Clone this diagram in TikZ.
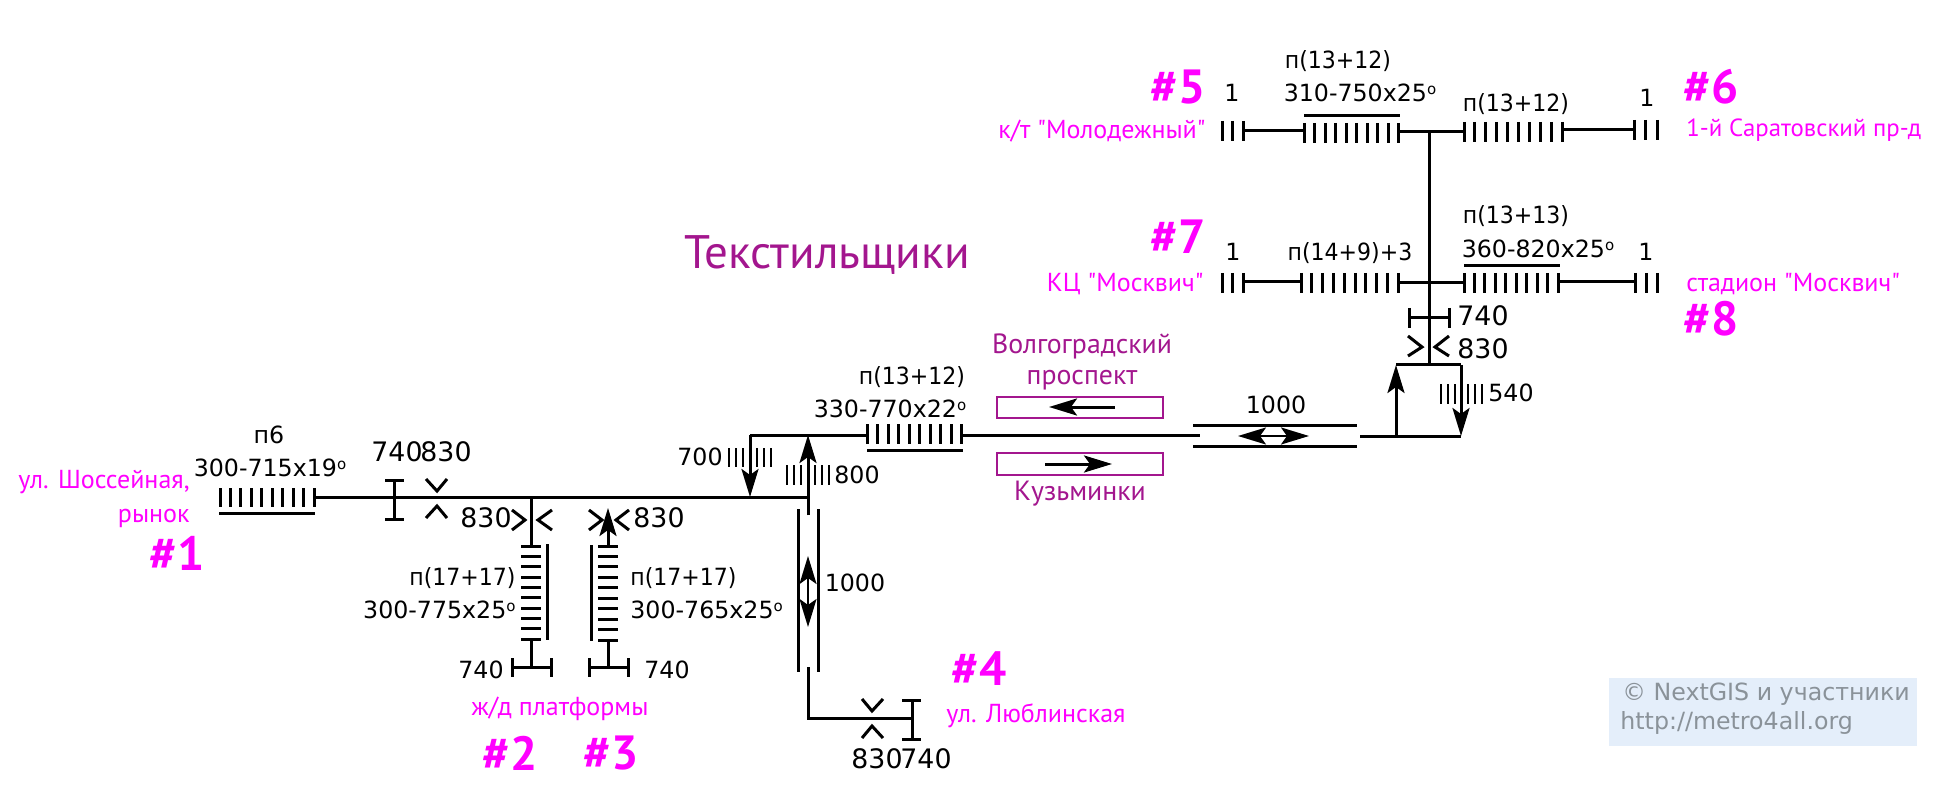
\documentclass[tikz,border=0pt]{standalone}
\usepackage{fontspec}
\setmainfont{DejaVu Sans}
\newfontfamily\labelfont{PT Sans}
\newfontfamily\tightfont[FakeStretch=0.93]{DejaVu Sans}
\usetikzlibrary{positioning,arrows.meta}
\definecolor{stationpink}{HTML}{FF00FF}
\definecolor{linepurple}{HTML}{A3168E}
\definecolor{notegray}{HTML}{8A9299}
\definecolor{noteblue}{HTML}{E4EEFA}
\tikzset{
    track/.style={line width=1.5pt},
    ticks/.style={line width=1.5pt},
    fine ticks/.style={line width=1.45pt},
    flow/.style={line width=1.5pt,-{Stealth[length=14pt,width=8.5pt,inset=3pt]}},
    flow both/.style={line width=1.2pt,{Stealth[length=14pt,width=8.5pt,inset=3pt]}-{Stealth[length=14pt,width=8.5pt,inset=3pt]}},
    dim/.style={inner sep=0pt,font=\fontsize{11.85}{14}\selectfont},
    door/.style={inner sep=0pt,font=\fontsize{13.4}{16}\selectfont},
    size/.style={inner sep=0pt,font=\tightfont\fontsize{11.85}{14}\selectfont},
    place/.style={inner sep=0pt,text=stationpink,font=\labelfont\fontsize{13}{15}\selectfont},
    exitno/.style={inner sep=0pt,text=stationpink,font=\labelfont\bfseries\fontsize{24}{28}\selectfont},
    linename/.style={inner sep=0pt,text=linepurple,font=\labelfont\fontsize{13.9}{16}\selectfont},
    lane/.style={draw=linepurple,line width=1.4pt},
}
\newcommand{\slope}{\raisebox{.55ex}{\fontsize{7.5}{8}\selectfont o}}
% stairs along a horizontal or a vertical run: first tick, spacing, span
\newcommand{\stairsh}[5]{\foreach \tk in {1,...,#1} \draw[ticks] ({#2+(\tk-1)*#3},#4) -- ({#2+(\tk-1)*#3},#5);}
\newcommand{\stairsv}[5]{\foreach \tk in {1,...,#1} \draw[ticks] (#4,{#2+(\tk-1)*#3}) -- (#5,{#2+(\tk-1)*#3});}
\newcommand{\stairsf}[4]{\foreach \tk in {1,2,3} \draw[fine ticks] ({#1+(\tk-1)*#2},#3) -- ({#1+(\tk-1)*#2},#4);}
\begin{document}
\begin{tikzpicture}[x=0.5pt,y=-0.5pt]
\useasboundingbox (0,0) rectangle (1955,786);

% junctions
\coordinate (mainW) at (314,497);
\coordinate (mainE) at (808,497);
\coordinate (br2) at (531.5,497);
\coordinate (br2low) at (531.5,546);
\coordinate (br2end) at (531.5,667);
\coordinate (br2top) at (531.5,639);
\coordinate (br3) at (608,497);
\coordinate (br3low) at (608,546);
\coordinate (br3end) at (608,667);
\coordinate (br3top) at (608,640);
\coordinate (mid1) at (750,435);
\coordinate (mid1low) at (750,497);
\coordinate (mid2) at (808,435);
\coordinate (mid2low) at (808,515);
\coordinate (plat4W) at (867,435);
\coordinate (plat4E) at (962,435);
\coordinate (gapW) at (1200,435);
\coordinate (gapE) at (1360,436);
\coordinate (loopW) at (1396,436);
\coordinate (loopE) at (1461,436);
\coordinate (loopWt) at (1396,365);
\coordinate (loopEt) at (1461,365);
\coordinate (hub) at (1429,365);
\coordinate (hubtop) at (1429,132);
\coordinate (southA) at (808,667);
\coordinate (southB) at (808,718);
\coordinate (southC) at (912,718);

% main tracks
\draw[track] (mainW) -- (mainE);
\draw[track] (br2) -- (br2low);
\draw[track] (br2top) -- (br2end);
\draw[track] (br3top) -- (br3end);
\draw[track] (mid1) -- (plat4W);
\draw[track] (plat4E) -- (gapW);
\draw[track] (gapE) -- (loopE);
\draw[track] (loopWt) -- (loopEt);
\draw[track] (hub) -- (hubtop);
\draw[track] (mid2low) -- (mainE);
\draw[track] (southA) -- (southB) -- (southC);

% arrows
\draw[flow] (br3low) -- (608,508);
\draw[flow] (mid1) -- (mid1low);
\draw[flow] (mid2low) -- (mid2);
\draw[flow] (loopW) -- (loopWt);
\draw[flow] (loopEt) -- (loopE);
\draw[flow both] (1238,436) -- (1309,436);
\draw[flow both] (808,556) -- (808,627);

% platform 1
\stairsh{10}{220}{10.45}{488}{507}
\draw[track] (219,513) -- (315,513);
% entrance to platforms 2, 3
\stairsv{10}{546}{10.35}{521}{541}
\draw[track] (547,544) -- (547,640);
\stairsv{10}{546}{10.45}{598}{618}
\draw[track] (591,545) -- (591,641);
% upper level platform
\stairsh{10}{867}{10.55}{424}{444}
\draw[track] (867,450) -- (963,450);

% turnstiles and doors, main hall
\draw[track] (394,480) -- (394,519) (385,480) -- (404,480) (385,519) -- (404,519);
\draw[track] (426,479) -- (437,491) -- (447,479);
\draw[track] (426,518) -- (437,506) -- (447,518);
\draw[track] (512,510) -- (525,520) -- (512,530);
\draw[track] (552,510) -- (538,520) -- (552,530);
\draw[track] (589,510) -- (602,520) -- (589,530);
\draw[track] (629,510) -- (616,520) -- (629,530);
\draw[track] (512,658) -- (512,677) (551,658) -- (551,677) (512,667) -- (551,667);
\draw[track] (589,658) -- (589,677) (628,658) -- (628,677) (589,667) -- (628,667);

% stairs beside arrows
\stairsf{729}{7}{448}{467}
\stairsf{757}{7}{448}{467}
\stairsf{787}{7}{465}{485}
\stairsf{815}{7}{465}{485}
\stairsf{1441}{7}{384}{404}
\stairsf{1468}{7}{384}{404}

% double walls
\draw[track] (798,509) -- (798,672);
\draw[track] (818,509) -- (818,672);
\draw[track] (1193,425) -- (1357,425);
\draw[track] (1193,446) -- (1357,446);

% south exit
\draw[track] (912,700) -- (912,739) (902,700) -- (921,700) (902,739) -- (921,739);
\draw[track] (862,699) -- (872,711) -- (883,699);
\draw[track] (862,738) -- (872,726) -- (883,738);

% upper hall
\draw[track] (1409,318) -- (1449,318) (1409,308) -- (1409,328) (1449,308) -- (1449,328);
\draw[track] (1408,336) -- (1422,347) -- (1408,356);
\draw[track] (1449,336) -- (1435,347) -- (1449,356);

% row 1
\stairsh{3}{1222}{10.5}{121}{141}
\draw[track] (1243,131) -- (1304,131);
\stairsh{10}{1304}{10.55}{123}{143}
\draw[track] (1304,116) -- (1400,116);
\draw[track] (1399,132) -- (1464,132);
\stairsh{10}{1464}{10.9}{122}{142}
\draw[track] (1562,130) -- (1634,130);
\stairsh{3}{1634}{11.5}{120}{140}
% row 2
\stairsh{3}{1222}{10.5}{273}{293}
\draw[track] (1243,282) -- (1301,282);
\stairsh{10}{1301}{10.8}{273}{293}
\draw[track] (1398,283) -- (1464,283);
\stairsh{10}{1464}{10.45}{273}{293}
\draw[track] (1464,266) -- (1560,266);
\draw[track] (1558,282) -- (1635,282);
\stairsh{3}{1635}{11}{273}{293}

% direction lanes
\draw[lane] (997,397) rectangle (1163,418);
\draw[lane] (997,453) rectangle (1163,475);
\draw[flow] (1115,407) -- (1049,407);
\draw[flow] (1045,464) -- (1112,464);

% dimensions
\node[dim] (p6) at (269,435) {п6};
\node[dim] (p6size) at (270,468) {300-715x19\slope};
\node[door] (stopA) at (397,452) {740};
\node[door] (doorA) at (446,452) {830};
\node[door] (doorB) at (486,518) {830};
\node[door] (doorC) at (659,518) {830};
\node[size,anchor=east] (p2) at (516,578) {п(17+17)};
\node[dim,anchor=east] (p2size) at (516,610) {300-775x25\slope};
\node[size,anchor=west] (p3) at (630,578) {п(17+17)};
\node[dim,anchor=west] (p3size) at (630,610) {300-765x25\slope};
\node[dim] (stopB) at (481,670) {740};
\node[dim] (stopC) at (667,670) {740};
\node[dim] (widthA) at (700,457) {700};
\node[dim] (widthB) at (857,475) {800};
\node[size] (plat) at (912,377) {п(13+12)};
\node[dim] (platsize) at (890,409) {330-770x22\slope};
\node[dim] (wallA) at (855,583) {1000};
\node[dim] (wallB) at (1276,405) {1000};
\node[door] (doorD) at (877,759) {830};
\node[door] (stopD) at (926,759) {740};
\node[door] (stopE) at (1483,316) {740};
\node[door] (doorE) at (1483,349) {830};
\node[dim] (widthC) at (1511,393) {540};
\node[dim] (oneA) at (1232,93) {1};
\node[dim] (oneB) at (1647,98) {1};
\node[dim] (oneC) at (1233,252) {1};
\node[dim] (oneD) at (1646,252) {1};
\node[size] (p5) at (1338,61) {п(13+12)};
\node[dim] (p5size) at (1360,93) {310-750x25\slope};
\node[size] (p6r) at (1516,104) {п(13+12)};
\node[size] (p7) at (1350,253) {п(14+9)+3};
\node[size] (p8) at (1516,216) {п(13+13)};
\node[dim] (p8size) at (1538,249) {360-820x25\slope};

% exits
\node[place,anchor=east] (exit1a) at (190,482) {ул. Шоссейная,};
\node[place,anchor=east] (exit1b) at (190,518) {рынок};
\node[exitno] (no1) at (177,553) {\#1};
\node[place] (exit23) at (560,709) {ж/д платформы};
\node[exitno] (no2) at (510,753) {\#2};
\node[exitno] (no3) at (611,753) {\#3};
\node[exitno] (no4) at (979,669) {\#4};
\node[place,anchor=west] (exit4) at (946,716) {ул. Люблинская};
\node[exitno] (no5) at (1178,87) {\#5};
\node[place,anchor=east] (exit5) at (1206,131) {к/т "Молодежный"};
\node[exitno] (no6) at (1711,87) {\#6};
\node[place,anchor=west,font=\labelfont\fontsize{12.4}{15}\selectfont] (exit6) at (1686,130) {1-й Саратовский пр-д};
\node[exitno] (no7) at (1178,237) {\#7};
\node[place,anchor=east] (exit7) at (1204,284) {КЦ "Москвич"};
\node[exitno] (no8) at (1711,319) {\#8};
\node[place,anchor=west] (exit8) at (1686,284) {стадион "Москвич"};

% station and directions
\node[inner sep=0pt,text=linepurple,font=\labelfont\fontsize{23.5}{27}\selectfont] (station) at (827,255) {Текстильщики};
\node[linename] (volgA) at (1082,346) {Волгоградский};
\node[linename] (volgB) at (1082,380) {проспект};
\node[linename] (kuzm) at (1080,494) {Кузьминки};

% credit
\fill[noteblue] (1609,678) rectangle (1917,746);
\node[inner sep=0pt,anchor=west,text=notegray,font=\fontsize{11.85}{14}\selectfont] (credit) at (1622,694) {© NextGIS и участники};
\node[inner sep=0pt,anchor=west,text=notegray,font=\fontsize{11.85}{14}\selectfont] (site) at (1620,723) {http://metro4all.org};
\end{tikzpicture}
\end{document}
